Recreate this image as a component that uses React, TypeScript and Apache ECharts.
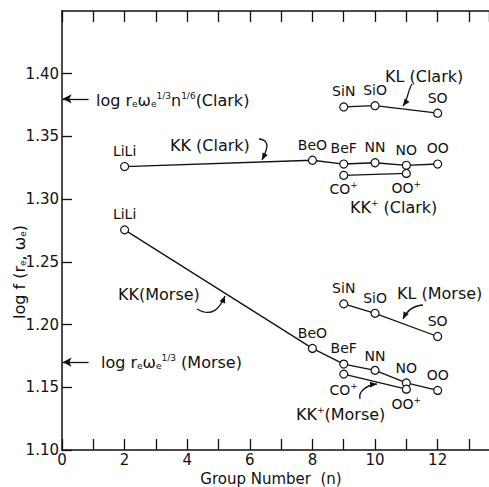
import React, { useEffect, useRef } from "react";
import * as echarts from "echarts";

// ---- data ----
const kkGroups = [2, 8, 9, 10, 11, 12];
const kkNames = ["LiLi", "BeO", "BeF", "NN", "NO", "OO"];
const kkClark = [1.326, 1.331, 1.328, 1.329, 1.327, 1.328];
const kkMorse = [1.2755, 1.181, 1.1685, 1.1635, 1.1535, 1.1475];

const kkPlusGroups = [9, 11];
const kkPlusNames = ["CO{sup|+}", "OO{sup|+}"];
const kkPlusClark = [1.319, 1.3205];
const kkPlusMorse = [1.1605, 1.1485];

const klGroups = [9, 10, 12];
const klNames = ["SiN", "SiO", "SO"];
const klClark = [1.3735, 1.3745, 1.3685];
const klMorse = [1.2165, 1.209, 1.1905];

const refClark = 1.38;
const refMorse = 1.17;

const xTickLabels = ["0", "2", "4", "6", "8", "10", "12"];

const FONT = "DejaVu Sans";
const INK = "#111";

const supRich = {
  sup: { fontSize: 9, fontFamily: FONT, color: INK, padding: [0, 0, 8, 0] },
};

function pairs(xs: number[], ys: number[]) {
  return xs.map((x, i) => [x, ys[i]]);
}

function lineSeries(
  xs: number[],
  ys: number[],
  names: string[],
  positions: string[],
  distances: number[]
) {
  return {
    type: "line",
    xAxisIndex: 0,
    yAxisIndex: 0,
    data: pairs(xs, ys).map((v, i) => ({
      value: v,
      label: { position: positions[i], distance: distances[i] },
    })),
    symbol: "circle",
    symbolSize: 8,
    lineStyle: { color: INK, width: 1.3 },
    itemStyle: { color: "#fff", borderColor: INK, borderWidth: 1.2 },
    label: {
      show: true,
      color: INK,
      fontFamily: FONT,
      fontSize: 14,
      formatter: (p: any) => names[p.dataIndex],
      rich: supRich,
    },
    z: 3,
  };
}

function arrowHead(ex: number, ey: number, fx: number, fy: number) {
  const dx = ex - fx;
  const dy = ey - fy;
  const len = Math.sqrt(dx * dx + dy * dy) || 1;
  const ux = dx / len;
  const uy = dy / len;
  const L = 7;
  const W = 3;
  const bx = ex - ux * L;
  const by = ey - uy * L;
  return {
    type: "polygon",
    shape: {
      points: [
        [ex, ey],
        [bx - uy * W, by + ux * W],
        [bx + uy * W, by - ux * W],
      ],
    },
    style: { fill: INK },
    z: 10,
  };
}

function curvedArrow(
  x1: number,
  y1: number,
  cx1: number,
  cy1: number,
  cx2: number,
  cy2: number,
  x2: number,
  y2: number
) {
  return [
    {
      type: "bezierCurve",
      shape: { x1, y1, cpx1: cx1, cpy1: cy1, cpx2: cx2, cpy2: cy2, x2, y2 },
      style: { stroke: INK, lineWidth: 1.3, fill: "none" },
      z: 10,
    },
    arrowHead(x2, y2, cx2, cy2),
  ];
}

function txt(text: string, x: number, y: number, size = 15, extra: any = {}) {
  return {
    type: "text",
    x,
    y,
    z: 10,
    style: {
      text,
      fontFamily: FONT,
      fontSize: size,
      fill: INK,
      align: "left",
      verticalAlign: "middle",
      rich: {
        sup: { fontSize: 9, fontFamily: FONT, fill: INK, padding: [0, 0, 9, 0] },
        sub: { fontSize: 9, fontFamily: FONT, fill: INK, padding: [8, 0, 0, 0] },
      },
      ...extra,
    },
  };
}

export default function App() {
  const ref = useRef<HTMLDivElement>(null);

  useEffect(() => {
    if (!ref.current) return;
    const chart = echarts.init(ref.current, null, { renderer: "svg" });

    const axisCommon = {
      type: "value",
      min: 0,
      max: 13.64,
      interval: 1,
      axisLine: { show: true, lineStyle: { color: INK, width: 1.5 } },
      axisTick: { show: true, inside: true, length: 11, lineStyle: { color: INK, width: 1.3 } },
      splitLine: { show: false },
    };

    const option: any = {
      animation: false,
      backgroundColor: "#fff",
      grid: { left: 62, right: 0, top: 11, bottom: 37, containLabel: false },
      xAxis: [
        {
          ...axisCommon,
          position: "bottom",
          axisLabel: {
            show: true,
            color: INK,
            fontFamily: FONT,
            fontSize: 15,
            margin: 2,
            showMaxLabel: false,
            formatter: (v: number) => {
              const s = String(Math.round(v));
              return xTickLabels.includes(s) && Math.abs(v - Math.round(v)) < 1e-6 ? s : "";
            },
          },
        },
        {
          ...axisCommon,
          position: "top",
          axisLabel: { show: false },
        },
      ],
      yAxis: {
        type: "value",
        min: 1.1,
        max: 1.45,
        interval: 0.05,
        axisLine: { show: true, lineStyle: { color: INK, width: 1.5 } },
        axisTick: { show: true, inside: true, length: 10, lineStyle: { color: INK, width: 1.3 } },
        splitLine: { show: false },
        axisLabel: {
          color: INK,
          fontFamily: FONT,
          fontSize: 15,
          margin: 3,
          showMaxLabel: false,
          formatter: (v: number) => (v > 1.425 ? "" : v.toFixed(2)),
        },
      },
      series: [
        lineSeries(kkGroups, kkClark, kkNames, ["top", "top", "top", "top", "top", "top"], [4, 4, 4, 4, 4, 4]),
        lineSeries(kkPlusGroups, kkPlusClark, kkPlusNames, ["bottom", "bottom"], [1, 1]),
        lineSeries(klGroups, klClark, klNames, ["top", "top", "top"], [4, 4, 4]),
        lineSeries(kkGroups, kkMorse, kkNames, ["top", "top", "top", "top", "top", "top"], [4, 4, 4, 3, 3, 4]),
        lineSeries(kkPlusGroups, kkPlusMorse, kkPlusNames, ["bottom", "bottom"], [3, 2]),
        lineSeries(klGroups, klMorse, klNames, ["top", "top", "top"], [4, 4, 4]),
        {
          type: "line",
          data: [],
          markLine: {
            silent: true,
            symbol: ["none", "arrow"],
            symbolSize: [7, 9],
            label: { show: false },
            lineStyle: { color: INK, width: 1.3, type: "solid" },
            data: [
              [{ coord: [0.85, refClark] }, { coord: [0.02, refClark] }],
              [{ coord: [0.85, refMorse] }, { coord: [0.02, refMorse] }],
            ],
          },
        },
      ],
      graphic: [
        txt("log r{sub|e}ω{sub|e}{sup|1/3}n{sup|1/6}(Clark)", 96, 100, 16),
        txt("log r{sub|e}ω{sub|e}{sup|1/3} (Morse)", 101, 362, 16),
        txt("KK (Clark)", 170, 145, 16),
        txt("KL (Clark)", 385, 76, 16),
        txt("KK{sup|+} (Clark)", 350, 207, 16),
        txt("KK(Morse)", 118, 294, 16),
        txt("KL (Morse)", 397, 293, 16),
        txt("KK{sup|+}(Morse)", 296, 414, 16),
        txt("Group Number  (n)", 271, 479, 15, { align: "center" }),
        {
          type: "text",
          x: 19,
          y: 272,
          rotation: Math.PI / 2,
          z: 10,
          style: {
            text: "log f (r{sub|e}, ω{sub|e})",
            fontFamily: FONT,
            fontSize: 16,
            fill: INK,
            align: "center",
            verticalAlign: "middle",
            rich: {
              sub: { fontSize: 9, fontFamily: FONT, fill: INK, padding: [8, 0, 0, 0] },
            },
          },
        },
        ...curvedArrow(259, 139, 272, 140, 266, 152, 262, 160),
        ...curvedArrow(412, 84, 408, 90, 408, 99, 403, 106),
        ...curvedArrow(197, 309, 212, 318, 220, 308, 225, 296),
        ...curvedArrow(423, 305, 412, 306, 407, 311, 403, 319),
        ...curvedArrow(360, 399, 358, 392, 366, 385, 377, 384),
      ],
    };

    chart.setOption(option);
    return () => chart.dispose();
  }, []);

  return <div ref={ref} style={{ width: 489, height: 487, position: "absolute", left: 0, top: 0 }} />;
}
